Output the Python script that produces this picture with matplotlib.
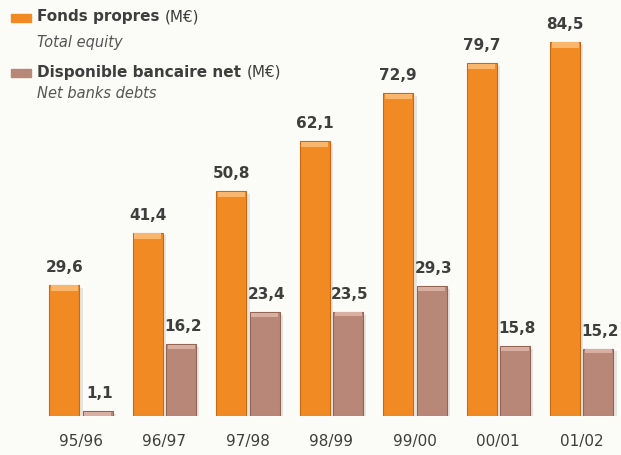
import matplotlib
matplotlib.use("Agg")
import matplotlib.pyplot as plt
import numpy as np

categories = ["95/96", "96/97", "97/98", "98/99", "99/00", "00/01", "01/02"]
fonds_propres = [29.6, 41.4, 50.8, 62.1, 72.9, 79.7, 84.5]
disponible = [1.1, 16.2, 23.4, 23.5, 29.3, 15.8, 15.2]
labels_fp = ["29,6", "41,4", "50,8", "62,1", "72,9", "79,7", "84,5"]
labels_d = ["1,1", "16,2", "23,4", "23,5", "29,3", "15,8", "15,2"]

c_orange = "#F28A24"
c_mauve = "#B98777"
txt = "#3E3E3E"
bg = "#FBFBF8"

fig = plt.figure(figsize=(6.21, 4.55), dpi=100, facecolor=bg)
base = 39 / 455
ax = fig.add_axes([0, base, 1, 1 - base])
ax.set_facecolor(bg)

x = np.arange(len(categories))
w = 0.36
off = 0.2

# soft shadows
ax.bar(x - off + 0.04, fonds_propres, w, bottom=-0.6, color="#D9D6D0", alpha=0.6, zorder=1)
ax.bar(x + off + 0.04, disponible, w, bottom=-0.6, color="#D9D6D0", alpha=0.6, zorder=1)

ax.bar(x - off, fonds_propres, w, color=c_orange, edgecolor="#C96A12", linewidth=0.8, zorder=2)
ax.bar(x + off, disponible, w, color=c_mauve, edgecolor="#946455", linewidth=0.8, zorder=2)

# bevel highlight at top
ax.bar(x - off, [1.2] * len(x), w * 0.9, bottom=np.array(fonds_propres) - 1.3, color="#F9B66C", zorder=3, linewidth=0)
ax.bar(x + off, [0.9] * len(x), w * 0.9, bottom=np.array(disponible) - 1.0, color="#D9AFA2", zorder=3, linewidth=0)

for xi, v, s in zip(x, fonds_propres, labels_fp):
    ax.text(xi - off, v + 2.3, s, ha="center", va="bottom", fontsize=11, fontweight="bold", color=txt)
for xi, v, s in zip(x, disponible, labels_d):
    ax.text(xi + off + 0.02, v + 2.3, s, ha="center", va="bottom", fontsize=11, fontweight="bold", color=txt)

ax.set_xlim(-0.97, 6.47)
ax.set_ylim(0, 94)
ax.axis("off")

for xi, c in zip(x, categories):
    ax.text(xi, -4.0, c, ha="center", va="top", fontsize=11, color=txt)

# legend
fig.patches.append(plt.Rectangle((11/621, 1 - 22/455), 20/621, 8/455, transform=fig.transFigure, color=c_orange, figure=fig))
fig.patches.append(plt.Rectangle((11/621, 1 - 77/455), 20/621, 8/455, transform=fig.transFigure, color=c_mauve, figure=fig))
t = fig.text(37/621, 1 - 17/455, "Fonds propres ", fontsize=11, fontweight="bold", color=txt, va="center")
fig.canvas.draw()
bb = t.get_window_extent()
fig.text(bb.x1 / 621, 1 - 17/455, "(M€)", fontsize=11, color=txt, va="center")
fig.text(37/621, 1 - 42/455, "Total equity", fontsize=10.5, style="italic", color="#555555", va="center")
t2 = fig.text(37/621, 1 - 72/455, "Disponible bancaire net ", fontsize=11, fontweight="bold", color=txt, va="center")
fig.canvas.draw()
bb2 = t2.get_window_extent()
fig.text(bb2.x1 / 621, 1 - 72/455, "(M€)", fontsize=11, color=txt, va="center")
fig.text(37/621, 1 - 93/455, "Net banks debts", fontsize=10.5, style="italic", color="#555555", va="center")

fig.savefig("out.png", dpi=100, facecolor=bg)
